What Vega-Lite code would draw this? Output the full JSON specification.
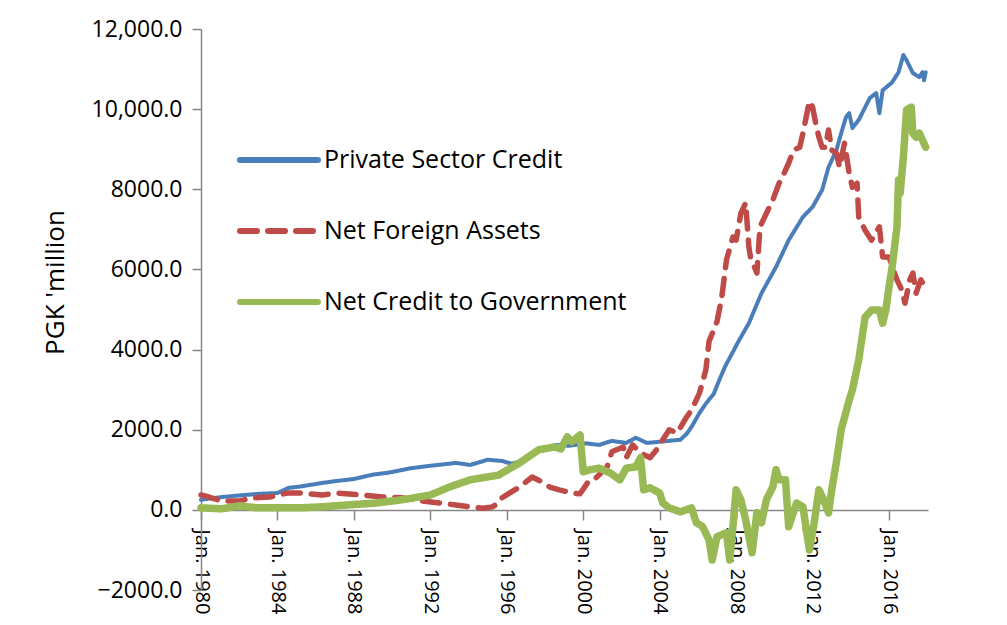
{
  "$schema": "https://vega.github.io/schema/vega-lite/v6.json",
  "width": 727,
  "height": 561,
  "autosize": {"type": "none"},
  "padding": {"left": 201, "top": 29, "right": 79, "bottom": 35},
  "background": "white",
  "config": {
    "view": {"stroke": null},
    "font": "Open Sans",
    "axis": {"grid": false, "domainColor": "#868686", "tickColor": "#868686", "labelColor": "black", "titleColor": "black", "labelFont": "Open Sans", "titleFont": "Open Sans"},
    "legend": {
      "orient": "none",
      "legendX": 36,
      "legendY": 111,
      "padding": 0,
      "symbolType": "stroke",
      "symbolSize": 6084,
      "symbolStrokeWidth": 6,
      "clipHeight": 40,
      "rowPadding": 31,
      "labelFont": "Open Sans",
      "labelFontSize": 25,
      "labelColor": "black",
      "labelOffset": 3,
      "labelLimit": 400
    }
  },
  "data": {
    "values": [
      {"date":"1980-01","series":"Private Sector Credit","value":250},
      {"date":"1980-06","series":"Private Sector Credit","value":280},
      {"date":"1981-02","series":"Private Sector Credit","value":320},
      {"date":"1982-01","series":"Private Sector Credit","value":360},
      {"date":"1983-01","series":"Private Sector Credit","value":400},
      {"date":"1984-01","series":"Private Sector Credit","value":420},
      {"date":"1984-08","series":"Private Sector Credit","value":550},
      {"date":"1985-03","series":"Private Sector Credit","value":580},
      {"date":"1986-05","series":"Private Sector Credit","value":670},
      {"date":"1987-02","series":"Private Sector Credit","value":720},
      {"date":"1988-01","series":"Private Sector Credit","value":770},
      {"date":"1989-01","series":"Private Sector Credit","value":880},
      {"date":"1989-11","series":"Private Sector Credit","value":930},
      {"date":"1991-01","series":"Private Sector Credit","value":1040},
      {"date":"1992-01","series":"Private Sector Credit","value":1100},
      {"date":"1993-05","series":"Private Sector Credit","value":1170},
      {"date":"1993-09","series":"Private Sector Credit","value":1150},
      {"date":"1994-02","series":"Private Sector Credit","value":1120},
      {"date":"1995-01","series":"Private Sector Credit","value":1250},
      {"date":"1995-10","series":"Private Sector Credit","value":1220},
      {"date":"1996-04","series":"Private Sector Credit","value":1150},
      {"date":"1996-09","series":"Private Sector Credit","value":1200},
      {"date":"1997-05","series":"Private Sector Credit","value":1400},
      {"date":"1998-08","series":"Private Sector Credit","value":1620},
      {"date":"1999-04","series":"Private Sector Credit","value":1600},
      {"date":"2000-03","series":"Private Sector Credit","value":1660},
      {"date":"2000-11","series":"Private Sector Credit","value":1620},
      {"date":"2001-07","series":"Private Sector Credit","value":1720},
      {"date":"2002-04","series":"Private Sector Credit","value":1670},
      {"date":"2002-10","series":"Private Sector Credit","value":1800},
      {"date":"2003-05","series":"Private Sector Credit","value":1670},
      {"date":"2004-01","series":"Private Sector Credit","value":1700},
      {"date":"2005-02","series":"Private Sector Credit","value":1750},
      {"date":"2005-06","series":"Private Sector Credit","value":1900},
      {"date":"2005-09","series":"Private Sector Credit","value":2070},
      {"date":"2006-02","series":"Private Sector Credit","value":2420},
      {"date":"2006-06","series":"Private Sector Credit","value":2650},
      {"date":"2006-11","series":"Private Sector Credit","value":2900},
      {"date":"2007-02","series":"Private Sector Credit","value":3200},
      {"date":"2007-06","series":"Private Sector Credit","value":3570},
      {"date":"2008-03","series":"Private Sector Credit","value":4240},
      {"date":"2008-09","series":"Private Sector Credit","value":4660},
      {"date":"2009-05","series":"Private Sector Credit","value":5410},
      {"date":"2010-02","series":"Private Sector Credit","value":6060},
      {"date":"2010-10","series":"Private Sector Credit","value":6730},
      {"date":"2011-07","series":"Private Sector Credit","value":7310},
      {"date":"2012-01","series":"Private Sector Credit","value":7560},
      {"date":"2012-07","series":"Private Sector Credit","value":7980},
      {"date":"2012-11","series":"Private Sector Credit","value":8550},
      {"date":"2013-04","series":"Private Sector Credit","value":8980},
      {"date":"2013-07","series":"Private Sector Credit","value":9400},
      {"date":"2013-10","series":"Private Sector Credit","value":9800},
      {"date":"2013-12","series":"Private Sector Credit","value":9900},
      {"date":"2014-02","series":"Private Sector Credit","value":9530},
      {"date":"2014-06","series":"Private Sector Credit","value":9730},
      {"date":"2015-01","series":"Private Sector Credit","value":10280},
      {"date":"2015-05","series":"Private Sector Credit","value":10400},
      {"date":"2015-07","series":"Private Sector Credit","value":9900},
      {"date":"2015-09","series":"Private Sector Credit","value":10470},
      {"date":"2016-03","series":"Private Sector Credit","value":10670},
      {"date":"2016-07","series":"Private Sector Credit","value":10920},
      {"date":"2016-10","series":"Private Sector Credit","value":11350},
      {"date":"2016-12","series":"Private Sector Credit","value":11220},
      {"date":"2017-04","series":"Private Sector Credit","value":10900},
      {"date":"2017-08","series":"Private Sector Credit","value":10800},
      {"date":"2017-10","series":"Private Sector Credit","value":10920},
      {"date":"2017-11","series":"Private Sector Credit","value":10720},
      {"date":"2017-12","series":"Private Sector Credit","value":10920},

      {"date":"1980-01","series":"Net Foreign Assets","value":370},
      {"date":"1980-06","series":"Net Foreign Assets","value":320},
      {"date":"1981-02","series":"Net Foreign Assets","value":220},
      {"date":"1982-01","series":"Net Foreign Assets","value":220},
      {"date":"1982-09","series":"Net Foreign Assets","value":300},
      {"date":"1983-08","series":"Net Foreign Assets","value":320},
      {"date":"1984-07","series":"Net Foreign Assets","value":420},
      {"date":"1985-03","series":"Net Foreign Assets","value":420},
      {"date":"1986-05","series":"Net Foreign Assets","value":370},
      {"date":"1987-02","series":"Net Foreign Assets","value":420},
      {"date":"1988-06","series":"Net Foreign Assets","value":370},
      {"date":"1989-07","series":"Net Foreign Assets","value":320},
      {"date":"1990-07","series":"Net Foreign Assets","value":300},
      {"date":"1991-08","series":"Net Foreign Assets","value":220},
      {"date":"1992-07","series":"Net Foreign Assets","value":170},
      {"date":"1993-05","series":"Net Foreign Assets","value":120},
      {"date":"1994-02","series":"Net Foreign Assets","value":75},
      {"date":"1994-10","series":"Net Foreign Assets","value":40},
      {"date":"1995-04","series":"Net Foreign Assets","value":75},
      {"date":"1995-08","series":"Net Foreign Assets","value":170},
      {"date":"1995-10","series":"Net Foreign Assets","value":300},
      {"date":"1996-06","series":"Net Foreign Assets","value":500},
      {"date":"1996-09","series":"Net Foreign Assets","value":570},
      {"date":"1997-05","series":"Net Foreign Assets","value":820},
      {"date":"1997-11","series":"Net Foreign Assets","value":700},
      {"date":"1998-04","series":"Net Foreign Assets","value":570},
      {"date":"1998-10","series":"Net Foreign Assets","value":500},
      {"date":"1999-06","series":"Net Foreign Assets","value":420},
      {"date":"1999-11","series":"Net Foreign Assets","value":400},
      {"date":"2000-05","series":"Net Foreign Assets","value":750},
      {"date":"2000-09","series":"Net Foreign Assets","value":800},
      {"date":"2001-04","series":"Net Foreign Assets","value":1070},
      {"date":"2001-07","series":"Net Foreign Assets","value":1450},
      {"date":"2002-02","series":"Net Foreign Assets","value":1570},
      {"date":"2002-04","series":"Net Foreign Assets","value":1300},
      {"date":"2002-08","series":"Net Foreign Assets","value":1620},
      {"date":"2003-01","series":"Net Foreign Assets","value":1420},
      {"date":"2003-07","series":"Net Foreign Assets","value":1300},
      {"date":"2003-11","series":"Net Foreign Assets","value":1500},
      {"date":"2004-03","series":"Net Foreign Assets","value":1750},
      {"date":"2004-07","series":"Net Foreign Assets","value":2000},
      {"date":"2004-12","series":"Net Foreign Assets","value":1920},
      {"date":"2005-03","series":"Net Foreign Assets","value":2120},
      {"date":"2005-06","series":"Net Foreign Assets","value":2320},
      {"date":"2005-09","series":"Net Foreign Assets","value":2490},
      {"date":"2006-02","series":"Net Foreign Assets","value":2920},
      {"date":"2006-06","series":"Net Foreign Assets","value":3490},
      {"date":"2006-08","series":"Net Foreign Assets","value":4200},
      {"date":"2007-01","series":"Net Foreign Assets","value":4700},
      {"date":"2007-04","series":"Net Foreign Assets","value":5300},
      {"date":"2007-07","series":"Net Foreign Assets","value":6240},
      {"date":"2007-11","series":"Net Foreign Assets","value":6810},
      {"date":"2008-01","series":"Net Foreign Assets","value":6730},
      {"date":"2008-04","series":"Net Foreign Assets","value":7400},
      {"date":"2008-07","series":"Net Foreign Assets","value":7660},
      {"date":"2008-09","series":"Net Foreign Assets","value":6560},
      {"date":"2008-10","series":"Net Foreign Assets","value":6310},
      {"date":"2009-02","series":"Net Foreign Assets","value":5910},
      {"date":"2009-04","series":"Net Foreign Assets","value":7060},
      {"date":"2009-08","series":"Net Foreign Assets","value":7400},
      {"date":"2009-12","series":"Net Foreign Assets","value":7730},
      {"date":"2010-04","series":"Net Foreign Assets","value":8150},
      {"date":"2010-06","series":"Net Foreign Assets","value":8300},
      {"date":"2010-10","series":"Net Foreign Assets","value":8650},
      {"date":"2011-01","series":"Net Foreign Assets","value":8980},
      {"date":"2011-05","series":"Net Foreign Assets","value":9050},
      {"date":"2011-07","series":"Net Foreign Assets","value":9400},
      {"date":"2011-09","series":"Net Foreign Assets","value":9800},
      {"date":"2011-11","series":"Net Foreign Assets","value":10200},
      {"date":"2012-01","series":"Net Foreign Assets","value":10050},
      {"date":"2012-03","series":"Net Foreign Assets","value":9650},
      {"date":"2012-05","series":"Net Foreign Assets","value":9300},
      {"date":"2012-07","series":"Net Foreign Assets","value":9050},
      {"date":"2012-09","series":"Net Foreign Assets","value":9050},
      {"date":"2012-11","series":"Net Foreign Assets","value":9480},
      {"date":"2013-01","series":"Net Foreign Assets","value":8980},
      {"date":"2013-04","series":"Net Foreign Assets","value":8900},
      {"date":"2013-06","series":"Net Foreign Assets","value":8550},
      {"date":"2013-09","series":"Net Foreign Assets","value":9150},
      {"date":"2013-12","series":"Net Foreign Assets","value":8400},
      {"date":"2014-02","series":"Net Foreign Assets","value":8050},
      {"date":"2014-05","series":"Net Foreign Assets","value":8150},
      {"date":"2014-06","series":"Net Foreign Assets","value":7310},
      {"date":"2014-10","series":"Net Foreign Assets","value":6980},
      {"date":"2015-02","series":"Net Foreign Assets","value":6730},
      {"date":"2015-07","series":"Net Foreign Assets","value":7060},
      {"date":"2015-09","series":"Net Foreign Assets","value":6310},
      {"date":"2016-01","series":"Net Foreign Assets","value":6310},
      {"date":"2016-06","series":"Net Foreign Assets","value":5740},
      {"date":"2016-09","series":"Net Foreign Assets","value":5490},
      {"date":"2016-11","series":"Net Foreign Assets","value":5160},
      {"date":"2017-02","series":"Net Foreign Assets","value":5740},
      {"date":"2017-04","series":"Net Foreign Assets","value":5910},
      {"date":"2017-06","series":"Net Foreign Assets","value":5410},
      {"date":"2017-09","series":"Net Foreign Assets","value":5740},
      {"date":"2017-12","series":"Net Foreign Assets","value":5540},

      {"date":"1980-01","series":"Net Credit to Government","value":50},
      {"date":"1981-02","series":"Net Credit to Government","value":25},
      {"date":"1982-01","series":"Net Credit to Government","value":100},
      {"date":"1982-12","series":"Net Credit to Government","value":50},
      {"date":"1984-01","series":"Net Credit to Government","value":50},
      {"date":"1985-03","series":"Net Credit to Government","value":50},
      {"date":"1986-05","series":"Net Credit to Government","value":75},
      {"date":"1987-10","series":"Net Credit to Government","value":125},
      {"date":"1989-03","series":"Net Credit to Government","value":170},
      {"date":"1990-07","series":"Net Credit to Government","value":250},
      {"date":"1992-01","series":"Net Credit to Government","value":370},
      {"date":"1993-01","series":"Net Credit to Government","value":570},
      {"date":"1994-02","series":"Net Credit to Government","value":750},
      {"date":"1995-08","series":"Net Credit to Government","value":870},
      {"date":"1996-09","series":"Net Credit to Government","value":1170},
      {"date":"1997-09","series":"Net Credit to Government","value":1500},
      {"date":"1998-07","series":"Net Credit to Government","value":1570},
      {"date":"1998-11","series":"Net Credit to Government","value":1520},
      {"date":"1999-03","series":"Net Credit to Government","value":1820},
      {"date":"1999-06","series":"Net Credit to Government","value":1700},
      {"date":"1999-11","series":"Net Credit to Government","value":1870},
      {"date":"2000-01","series":"Net Credit to Government","value":950},
      {"date":"2000-05","series":"Net Credit to Government","value":1000},
      {"date":"2000-11","series":"Net Credit to Government","value":1040},
      {"date":"2001-06","series":"Net Credit to Government","value":920},
      {"date":"2001-12","series":"Net Credit to Government","value":750},
      {"date":"2002-04","series":"Net Credit to Government","value":1040},
      {"date":"2002-10","series":"Net Credit to Government","value":1070},
      {"date":"2003-01","series":"Net Credit to Government","value":1300},
      {"date":"2003-03","series":"Net Credit to Government","value":500},
      {"date":"2003-07","series":"Net Credit to Government","value":550},
      {"date":"2004-01","series":"Net Credit to Government","value":420},
      {"date":"2004-03","series":"Net Credit to Government","value":170},
      {"date":"2004-07","series":"Net Credit to Government","value":50},
      {"date":"2005-02","series":"Net Credit to Government","value":-50},
      {"date":"2005-09","series":"Net Credit to Government","value":50},
      {"date":"2005-12","series":"Net Credit to Government","value":-320},
      {"date":"2006-04","series":"Net Credit to Government","value":-420},
      {"date":"2006-08","series":"Net Credit to Government","value":-750},
      {"date":"2006-10","series":"Net Credit to Government","value":-1250},
      {"date":"2007-01","series":"Net Credit to Government","value":-670},
      {"date":"2007-07","series":"Net Credit to Government","value":-570},
      {"date":"2007-09","series":"Net Credit to Government","value":-1250},
      {"date":"2007-11","series":"Net Credit to Government","value":-420},
      {"date":"2008-01","series":"Net Credit to Government","value":500},
      {"date":"2008-04","series":"Net Credit to Government","value":250},
      {"date":"2008-07","series":"Net Credit to Government","value":-250},
      {"date":"2008-11","series":"Net Credit to Government","value":-1070},
      {"date":"2009-02","series":"Net Credit to Government","value":-75},
      {"date":"2009-05","series":"Net Credit to Government","value":-320},
      {"date":"2009-08","series":"Net Credit to Government","value":250},
      {"date":"2009-12","series":"Net Credit to Government","value":570},
      {"date":"2010-02","series":"Net Credit to Government","value":1000},
      {"date":"2010-04","series":"Net Credit to Government","value":750},
      {"date":"2010-08","series":"Net Credit to Government","value":750},
      {"date":"2010-10","series":"Net Credit to Government","value":-420},
      {"date":"2011-03","series":"Net Credit to Government","value":170},
      {"date":"2011-07","series":"Net Credit to Government","value":75},
      {"date":"2011-11","series":"Net Credit to Government","value":-1000},
      {"date":"2012-02","series":"Net Credit to Government","value":-320},
      {"date":"2012-05","series":"Net Credit to Government","value":500},
      {"date":"2012-08","series":"Net Credit to Government","value":250},
      {"date":"2012-11","series":"Net Credit to Government","value":-75},
      {"date":"2013-01","series":"Net Credit to Government","value":500},
      {"date":"2013-04","series":"Net Credit to Government","value":1200},
      {"date":"2013-07","series":"Net Credit to Government","value":2000},
      {"date":"2013-12","series":"Net Credit to Government","value":2740},
      {"date":"2014-02","series":"Net Credit to Government","value":3000},
      {"date":"2014-06","series":"Net Credit to Government","value":3740},
      {"date":"2014-10","series":"Net Credit to Government","value":4810},
      {"date":"2015-02","series":"Net Credit to Government","value":4990},
      {"date":"2015-07","series":"Net Credit to Government","value":4990},
      {"date":"2015-09","series":"Net Credit to Government","value":4660},
      {"date":"2015-11","series":"Net Credit to Government","value":4990},
      {"date":"2016-01","series":"Net Credit to Government","value":5560},
      {"date":"2016-03","series":"Net Credit to Government","value":6060},
      {"date":"2016-06","series":"Net Credit to Government","value":7060},
      {"date":"2016-07","series":"Net Credit to Government","value":8230},
      {"date":"2016-08","series":"Net Credit to Government","value":7900},
      {"date":"2016-10","series":"Net Credit to Government","value":8800},
      {"date":"2016-12","series":"Net Credit to Government","value":9980},
      {"date":"2017-03","series":"Net Credit to Government","value":10050},
      {"date":"2017-04","series":"Net Credit to Government","value":9400},
      {"date":"2017-06","series":"Net Credit to Government","value":9300},
      {"date":"2017-08","series":"Net Credit to Government","value":9400},
      {"date":"2017-10","series":"Net Credit to Government","value":9230},
      {"date":"2017-12","series":"Net Credit to Government","value":9050}
    ]
  },
  "mark": {"type": "line", "strokeCap": "round", "strokeJoin": "round"},
  "encoding": {
    "x": {
      "field": "date",
      "type": "temporal",
      "scale": {"type": "utc", "domain": [{"year": 1980, "month": 1, "date": 1, "utc": true}, {"year": 2018, "month": 1, "date": 15, "utc": true}]},
      "axis": {
        "title": null,
        "offset": -80,
        "values": [
          {"year": 1980, "month": 1, "date": 1, "utc": true},
          {"year": 1984, "month": 1, "date": 1, "utc": true},
          {"year": 1988, "month": 1, "date": 1, "utc": true},
          {"year": 1992, "month": 1, "date": 1, "utc": true},
          {"year": 1996, "month": 1, "date": 1, "utc": true},
          {"year": 2000, "month": 1, "date": 1, "utc": true},
          {"year": 2004, "month": 1, "date": 1, "utc": true},
          {"year": 2008, "month": 1, "date": 1, "utc": true},
          {"year": 2012, "month": 1, "date": 1, "utc": true},
          {"year": 2016, "month": 1, "date": 1, "utc": true}
        ],
        "labelExpr": "'Jan. ' + utcFormat(datum.value, '%Y')",
        "labelAngle": 90,
        "labelAlign": "left",
        "labelBaseline": "middle",
        "labelFontSize": 20,
        "labelPadding": 9,
        "labelFlush": false,
        "labelOverlap": false,
        "labelBound": false,
        "tickSize": 10,
        "tickWidth": 1.5,
        "domainWidth": 1.5
      }
    },
    "y": {
      "field": "value",
      "type": "quantitative",
      "scale": {"domain": [-2000, 12000], "nice": false, "zero": false},
      "axis": {
        "title": "PGK 'million",
        "titleFontSize": 26,
        "titleFontWeight": "normal",
        "titlePadding": 23,
        "titleY": 253,
        "values": [-2000, 0, 2000, 4000, 6000, 8000, 10000, 12000],
        "labelExpr": "datum.value >= 10000 ? format(datum.value, ',.1f') : format(datum.value, '.1f')",
        "labelFontSize": 23,
        "labelPadding": 10,
        "tickSize": 9,
        "tickWidth": 1.5,
        "domainWidth": 1.5
      }
    },
    "color": {
      "field": "series",
      "type": "nominal",
      "sort": ["Private Sector Credit", "Net Foreign Assets", "Net Credit to Government"],
      "scale": {
        "domain": ["Private Sector Credit", "Net Foreign Assets", "Net Credit to Government"],
        "range": ["#4A7EBB", "#BE4B48", "#98B954"]
      },
      "legend": {"title": null, "encode": {"symbols": {"update": {"strokeCap": {"value": "round"}}}}}
    },
    "strokeDash": {
      "field": "series",
      "type": "nominal",
      "sort": ["Private Sector Credit", "Net Foreign Assets", "Net Credit to Government"],
      "scale": {
        "domain": ["Private Sector Credit", "Net Foreign Assets", "Net Credit to Government"],
        "range": [[1, 0], [17, 11], [1, 0]]
      },
      "legend": {"title": null, "encode": {"symbols": {"update": {"strokeCap": {"value": "round"}}}}}
    },
    "strokeWidth": {
      "condition": [
        {"test": "datum.series === 'Net Credit to Government'", "value": 7.5},
        {"test": "datum.series === 'Net Foreign Assets'", "value": 5.5}
      ],
      "value": 4
    }
  }
}
